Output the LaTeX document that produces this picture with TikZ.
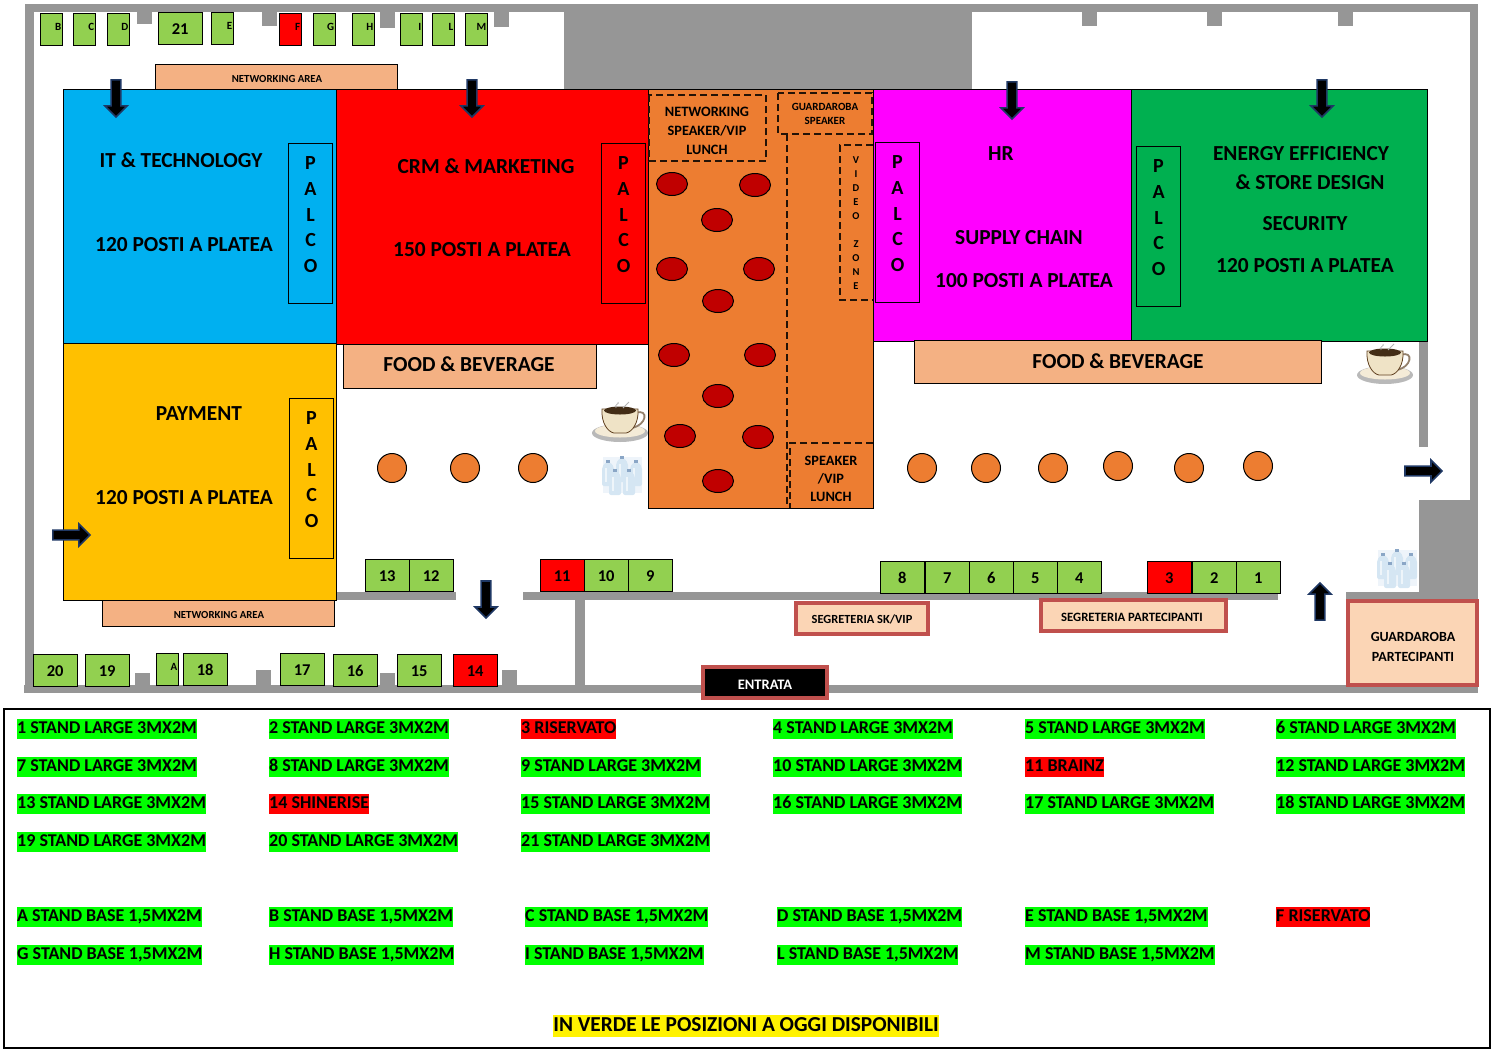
\documentclass[tikz,border=0pt]{standalone}
\usepackage{fontspec}
\setmainfont{Carlito}
\usetikzlibrary{shapes.arrows}
\definecolor{wallgray}{HTML}{969696}
\definecolor{standgreen}{HTML}{92D050}
\definecolor{peach}{HTML}{F4B183}
\definecolor{deskfill}{HTML}{FBD5B5}
\definecolor{deskred}{HTML}{C0504D}
\definecolor{hallorange}{HTML}{ED7D31}
\definecolor{arrownavy}{HTML}{1F3864}
\definecolor{itblue}{HTML}{00B0F0}
\definecolor{hrpink}{HTML}{FF00FF}
\definecolor{energygreen}{HTML}{00B050}
\definecolor{payyellow}{HTML}{FFC000}
\definecolor{tablered}{HTML}{C00000}
\definecolor{legendgreen}{HTML}{00FF00}
\definecolor{cupcream}{HTML}{EFE3C6}
\definecolor{bottleblue}{HTML}{D5E6F3}
\definecolor{bottlepale}{HTML}{EEF4FA}
\definecolor{bottlecap}{HTML}{8AA6C6}
\newcommand\fsz[1]{\fontsize{#1}{#1}\selectfont\bfseries}
\tikzset{
    wall/.style={fill=wallgray},
    room/.style={draw=black, line width=1pt},
    stand/.style={draw=black, line width=1.4pt, anchor=north west, minimum width=44, minimum height=32, inner sep=0pt, text height=12.5, font=\fsz{16.5}},
    smallstand/.style={draw=black, line width=1.4pt, anchor=north west, minimum height=32, text width=20, inner xsep=1pt, inner ysep=0pt, align=right, text depth=4, font=\fsz{11}},
    palco/.style={draw=black, line width=1.1pt, anchor=north west, minimum width=44, minimum height=160, inner sep=0pt, align=center, text depth=18, font=\fontsize{20}{25.7}\selectfont\bfseries},
    txt/.style={font=\fsz{#1}, inner sep=0pt, yshift=-1},
    txt/.default=21.4,
    dashbox/.style={draw=black!85!hallorange, line width=1.2pt, dash pattern=on 7pt off 4pt},
    desk/.style={draw=deskred, fill=deskfill, line width=4.5pt},
    table/.style={draw=black, fill=tablered, line width=1pt},
    seat/.style={circle, draw=black, fill=hallorange, line width=1pt, minimum size=29, inner sep=0pt},
    blockarrow/.style={single arrow, draw=arrownavy, fill=black, line width=1.6pt, minimum height=37, minimum width=22, single arrow head extend=6pt, inner xsep=0pt, inner ysep=4pt},
    legok/.style={fill=legendgreen, anchor=west, inner xsep=0pt, inner ysep=1pt, text height=13, text depth=5, font=\fsz{18}},
    legred/.style={legok, fill=red},
    cup/.pic={
        \fill[gray!55] (0,10) ellipse (28 and 9);
        \fill[cupcream!70!white] (0,8) ellipse (25 and 6.5);
        \draw[gray!70!brown, line width=1.8pt] (16,-10) .. controls (29,-15) and (27,3) .. (11,5);
        \draw[brown!50!black, fill=cupcream, line width=.8pt] (-18,-14) .. controls (-19,0) and (-12,9) .. (-6,10) -- (6,10) .. controls (12,9) and (19,0) .. (18,-14) -- cycle;
        \fill[brown!35!black] (0,-12.5) ellipse (16 and 4);
        \draw[gray!60, line width=.8pt] (3,-15) -- (9,-21) (-4,-15) .. controls (-6,-19) and (0,-19) .. (-2,-21);
    },
    bottles/.pic={
        \fill[bottlepale] (-19.5,-18) rectangle (19.5,18);
        \foreach \bx/\by in {-14/-5, 0/-9, 14/-5, -7/4, 7/4}
            {
                \fill[bottleblue, rounded corners=2pt] (\bx-6,\by+16) -- (\bx-6,\by-3) -- (\bx-2,\by-8) -- (\bx+2,\by-8) -- (\bx+6,\by-3) -- (\bx+6,\by+16) -- cycle;
                \fill[white, opacity=.6] (\bx-3,\by-2) rectangle (\bx-1,\by+12);
                \fill[bottlecap] (\bx-2,\by-10) rectangle (\bx+2,\by-7);
            }
    },
}
\begin{document}
\begin{tikzpicture}[x=1pt, y=-1pt]
    \useasboundingbox (0,0) rectangle (1497,1058);
    % muri
    \fill[wall] (25,4) rectangle (1478,12);
    \fill[wall] (25,4) rectangle (34,693);
    \fill[wall] (24,685) rectangle (1478,693);
    \fill[wall] (1470,4) rectangle (1478,693);
    \fill[wall] (564,12) rectangle (972,90);
    \fill[wall] (1419,340) rectangle (1428,447);
    \fill[wall] (1419,500) rectangle (1470,600);
    \fill[wall] (1346,592) rectangle (1420,600);
    \fill[wall] (336,592) rectangle (456,600);
    \fill[wall] (523,592) rectangle (1278,600);
    \fill[wall] (575,600) rectangle (585,685);
    \foreach \x/\y in {137/24, 262/26, 380/28, 494/27, 1082/26, 1207/26, 1338/26}
        {
            \fill[wall] (\x,12) rectangle (\x+15,\y);
        }
    \foreach \x/\y in {135/673, 256/670, 380/673, 502/670}
        {
            \fill[wall] (\x,\y) rectangle (\x+15,685);
        }
    % sale
    \draw[room, fill=peach] (155.5,64) rectangle (397,89.5);
    \draw[room, fill=peach] (102,600) rectangle (334,626);
    \draw[room, fill=itblue] (63.5,89.5) rectangle (336,343);
    \draw[room, fill=red] (336,89.5) rectangle (648,344);
    \draw[room, fill=hallorange] (648,89.5) rectangle (873,508);
    \draw[room, fill=hrpink] (873,89.5) rectangle (1131,341);
    \draw[room, fill=energygreen] (1131,89.5) rectangle (1427,341);
    \draw[room, fill=payyellow] (63.5,343) rectangle (336,600);
    \draw[room, line width=.8pt, fill=peach] (343.5,344) rectangle (596,388);
    \draw[room, line width=.8pt, fill=peach] (914.5,340) rectangle (1321,383);
    \node[txt=10.8] (netTop) at (277,78) {NETWORKING AREA};
    \node[txt=10.8] (netBottom) at (219,614) {NETWORKING AREA};
    \node[txt] (foodA) at (469,363) {FOOD \& BEVERAGE};
    \node[txt] (foodB) at (1118,360) {FOOD \& BEVERAGE};
    \foreach \n/\x/\y/\t in {a/181/159/IT \& TECHNOLOGY, b/184/244/120 POSTI A PLATEA, c/486/165/CRM \& MARKETING, d/482/249/150 POSTI A PLATEA, e/199/413/PAYMENT, f/184/497/120 POSTI A PLATEA, g/1001/153/HR, h/1019/237/SUPPLY CHAIN, i/1024/280/100 POSTI A PLATEA, j/1301/153/ENERGY EFFICIENCY, k/1310/181/\& STORE DESIGN, l/1305/223/SECURITY, m/1305/265/120 POSTI A PLATEA}
        {
            \node[txt] (room\n) at (\x,\y) {\t};
        }
    \foreach \n/\x/\y in {A/288/143, B/601/143, C/875/142, D/1136/146, E/289/398}
        {
            \node[palco] (palco\n) at (\x,\y) {P\\A\\L\\C\\O};
        }
    % zona centrale
    \draw[dashbox] (649,95) rectangle (766,161);
    \draw[dashbox] (778,93) rectangle (872,134);
    \draw[dashbox] (787,134) -- (787,508);
    \draw[dashbox] (873,145) -- (840,145) -- (840,300) -- (873,300);
    \draw[dashbox] (873,443) -- (790,443) -- (790,508);
    \foreach \n/\y/\t in {a/111/NETWORKING, b/130/{SPEAKER/VIP}, c/149/LUNCH}
        {
            \node[txt=14.3] (netSp\n) at (707,\y) {\t};
        }
    \node[txt=11] (guardA) at (825,106) {GUARDAROBA};
    \node[txt=11] (guardB) at (825,120) {SPEAKER};
    \foreach \n/\y/\t in {a/460/SPEAKER, b/478/{/VIP}, c/496/LUNCH}
        {
            \node[txt=14.3] (lunch\n) at (831,\y) {\t};
        }
    \foreach \y/\t in {159/V, 173/I, 187/D, 201/E, 215/O, 243/Z, 257/O, 271/N, 285/E}
        {
            \node[txt=10.5] (video\y) at (856,\y) {\t};
        }
    \foreach \x/\y in {672/184, 755/185, 717/220, 672/269, 759/269, 718/301, 674/355, 760/355, 718/396, 680/436, 758/437, 718/481}
        {
            \draw[table] (\x,\y) ellipse (15.5 and 11.5);
        }
    \foreach \n/\x/\y in {a/392/468, b/465/468, c/533/468, d/922/468, e/986/468, f/1053/468, g/1118/466, h/1189/468, i/1258/466}
        {
            \node[seat] (seat\n) at (\x,\y) {};
        }
    % stand
    \foreach \n/\x/\y/\c in {21/158/12/standgreen, 13/365/559/standgreen, 12/409/559/standgreen, 11/540/559/red, 10/584/559/standgreen, 9/628/559/standgreen, 8/880/561/standgreen, 7/925/561/standgreen, 6/969/561/standgreen, 5/1013/561/standgreen, 4/1057/561/standgreen, 3/1147/561/red, 2/1192/561/standgreen, 1/1236/561/standgreen, 20/33/654/standgreen, 19/85/654/standgreen, 18/183/653/standgreen, 17/280/653/standgreen, 16/333/654/standgreen, 15/397/654/standgreen, 14/453/654/red}
        {
            \node[stand, fill=\c] (stand\n) at (\x-.5,\y-.5) {\n};
        }
    \foreach \n/\x/\y/\c in {A/156/653/standgreen, B/40/13/standgreen, C/73/13/standgreen, D/107/13/standgreen, E/211/12/standgreen, F/279/13/red, G/313/13/standgreen, H/352/13/standgreen, I/400/13/standgreen, L/432/13/standgreen, M/465/13/standgreen}
        {
            \node[smallstand, fill=\c] (stand\n) at (\x-.5,\y-.5) {\n};
        }
    % banchi
    \draw[desk] (796,603) rectangle (928,634);
    \draw[desk] (1041,600) rectangle (1226,631);
    \draw[desk] (1348,601) rectangle (1477,685);
    \draw[desk, fill=black] (703,667) rectangle (827,698);
    \node[txt=12.4] (segVip) at (862,618) {SEGRETERIA SK/VIP};
    \node[txt=12.7] (segPart) at (1132,616) {SEGRETERIA PARTECIPANTI};
    \node[txt=14] (guardPa) at (1413,636) {GUARDAROBA};
    \node[txt=14] (guardPb) at (1413,656) {PARTECIPANTI};
    \node[txt=14.5, text=white] (entrata) at (765,684) {ENTRATA};
    % frecce
    \foreach \n/\x/\y/\r in {a/116/96/-90, b/472/96/-90, c/1012/98/-90, d/1322/96/-90, e/486/597/-90, f/69/535/0, g/1421/471/0, h/1320/604/90}
        {
            \node[blockarrow, rotate=\r] (arrow\n) at (\x,\y) {};
        }
    \pic at (620,423) {cup};
    \pic at (1385,365) {cup};
    \pic at (622,475) {bottles};
    \pic at (1397,568) {bottles};
    % legenda
    \draw[black, line width=1.4pt] (4,709) rectangle (1490,1048);
    \foreach \n/\x/\y/\t in {1/17/727/1 STAND LARGE 3MX2M, 2/269/727/2 STAND LARGE 3MX2M, 4/773/727/4 STAND LARGE 3MX2M, 5/1025/727/5 STAND LARGE 3MX2M, 6/1276/727/6 STAND LARGE 3MX2M, 7/17/765/7 STAND LARGE 3MX2M, 8/269/765/8 STAND LARGE 3MX2M, 9/521/765/9 STAND LARGE 3MX2M, 10/773/765/10 STAND LARGE 3MX2M, 12/1276/765/12 STAND LARGE 3MX2M, 13/17/802/13 STAND LARGE 3MX2M, 15/521/802/15 STAND LARGE 3MX2M, 16/773/802/16 STAND LARGE 3MX2M, 17/1025/802/17 STAND LARGE 3MX2M, 18/1276/802/18 STAND LARGE 3MX2M, 19/17/840/19 STAND LARGE 3MX2M, 20/269/840/20 STAND LARGE 3MX2M, 21/521/840/21 STAND LARGE 3MX2M, A/17/915/A STAND BASE {1,5}MX2M, B/269/915/B STAND BASE {1,5}MX2M, C/525/915/C STAND BASE {1,5}MX2M, D/777/915/D STAND BASE {1,5}MX2M, E/1025/915/E STAND BASE {1,5}MX2M, G/17/953/G STAND BASE {1,5}MX2M, H/269/953/H STAND BASE {1,5}MX2M, I/525/953/I STAND BASE {1,5}MX2M, L/777/953/L STAND BASE {1,5}MX2M, M/1025/953/M STAND BASE {1,5}MX2M}
        {
            \node[legok] (leg\n) at (\x,\y+2) {\t};
        }
    \foreach \n/\x/\y/\t in {3/521/727/3 RISERVATO, 11/1025/765/11 BRAINZ, 14/269/802/14 SHINERISE, F/1276/915/F RISERVATO}
        {
            \node[legred] (leg\n) at (\x,\y+2) {\t};
        }
    \node[legok, fill=yellow, anchor=center, text height=15, font=\fsz{21.3}] (legNote) at (746,1026) {IN VERDE LE POSIZIONI A OGGI DISPONIBILI};
\end{tikzpicture}
\end{document}
